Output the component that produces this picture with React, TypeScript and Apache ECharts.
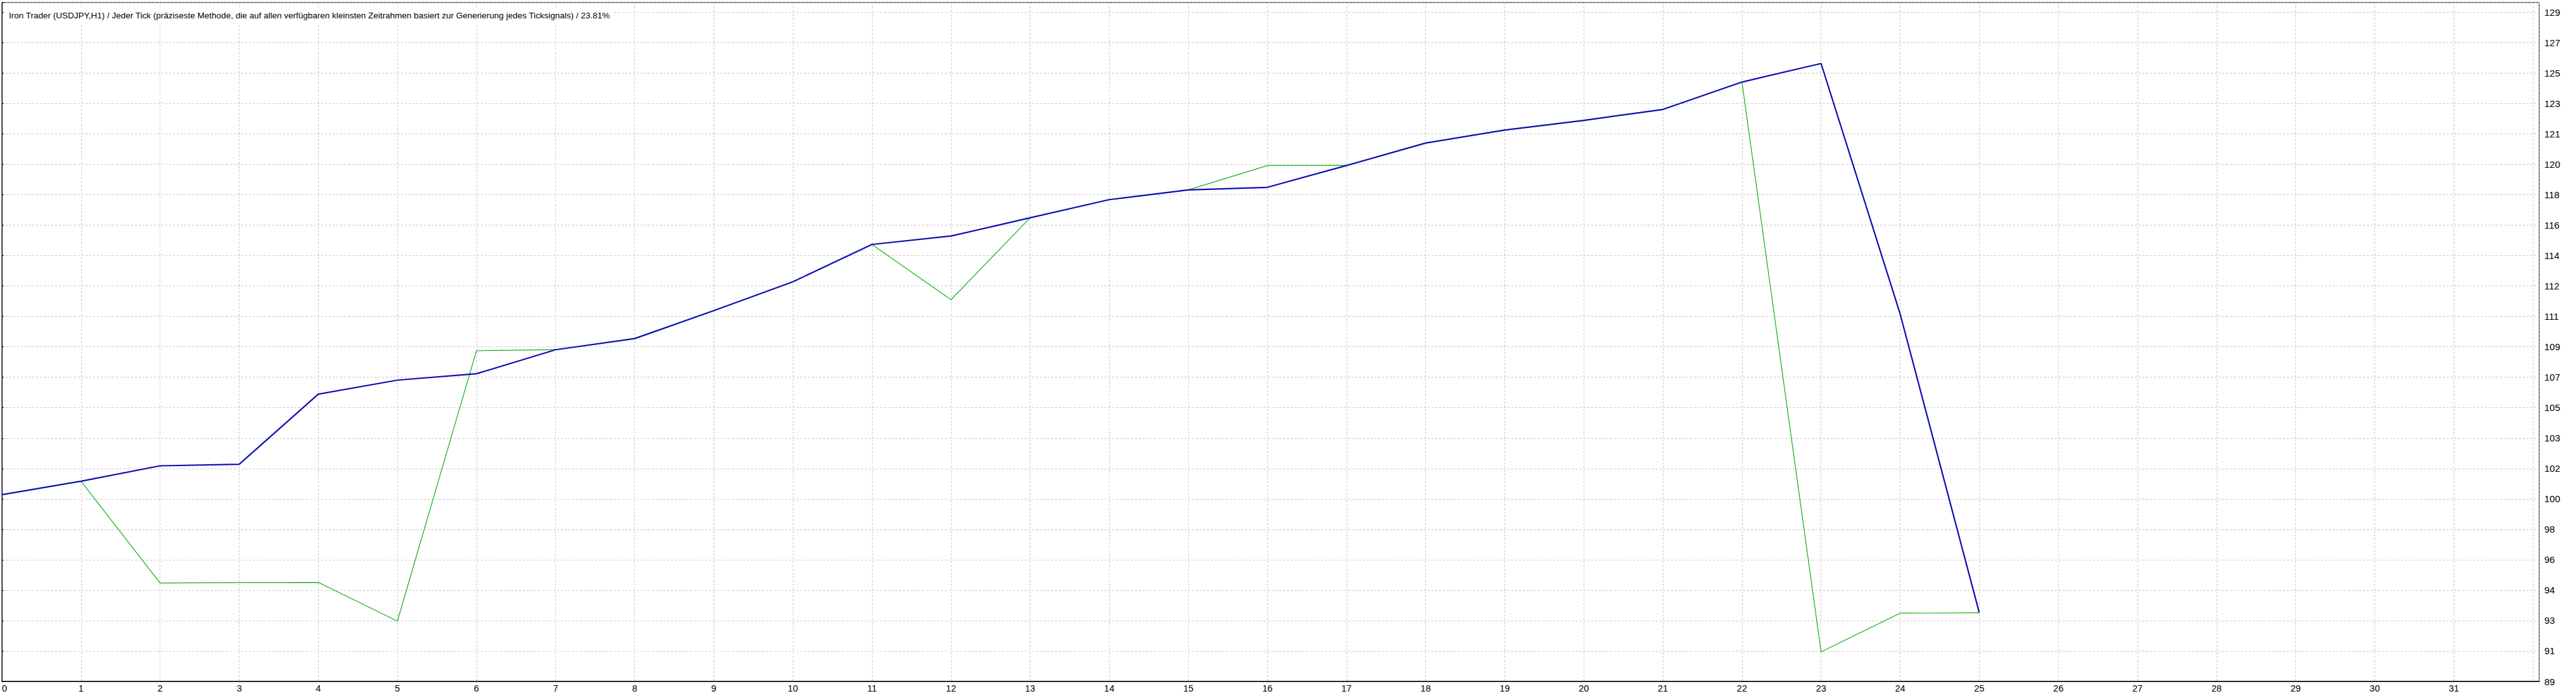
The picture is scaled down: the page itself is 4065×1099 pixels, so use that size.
import React, { useEffect, useRef } from 'react';
import * as echarts from 'echarts';

const TITLE =
  'Iron Trader (USDJPY,H1) / Jeder Tick (präziseste Methode, die auf allen verfügbaren kleinsten Zeitrahmen basiert zur Generierung jedes Ticksignals) / 23.81%';

// trade numbers (x axis)
const TRADES = [0, 1, 2, 3, 4, 5, 6, 7, 8, 9, 10, 11, 12, 13, 14, 15, 16, 17, 18, 19, 20, 21, 22, 23, 24, 25];

// balance (blue)
const BALANCE = [
  100.05, 100.85, 101.76, 101.85, 106.0, 106.83, 107.21, 108.63, 109.29, 110.94, 112.65, 114.86, 115.36,
  116.44, 117.51, 118.09, 118.24, 119.53, 120.86, 121.63, 122.2, 122.85, 124.47, 125.57, 110.74, 93.07,
];

// equity (green)
const EQUITY = [
  100.05, 100.85, 94.82, 94.85, 94.86, 92.57, 108.57, 108.63, 109.29, 110.94, 112.65, 114.86, 111.59,
  116.44, 117.51, 118.09, 119.53, 119.53, 120.86, 121.63, 122.2, 122.85, 124.47, 90.75, 93.04, 93.06,
];

// the y grid: labels are rounded values of base + k * step
const Y_BASE = 89;
const Y_STEP = 1.8;
const Y_TOP = 22.32; // top of plot, in grid steps
const Y_LAST_TICK = 22;
const X_MAX = 32.08;
const X_LAST_TICK = 31;

const toGrid = (v: number) => (v - Y_BASE) / Y_STEP;

const FONT = '"Liberation Sans", Arial, sans-serif';

export default function App() {
  const ref = useRef<HTMLDivElement>(null);

  useEffect(() => {
    if (!ref.current) return;
    const chart = echarts.init(ref.current, undefined, { renderer: 'svg' });
    const grid = { left: 3, top: 4, right: 58, bottom: 23 };
    const option: any = {
      animation: false,
      backgroundColor: '#ffffff',
      grid: { ...grid, show: true, borderColor: '#000000', borderWidth: 1, backgroundColor: 'transparent' },
      xAxis: {
        type: 'value',
        min: 0,
        max: X_MAX,
        interval: 1,
        axisLine: { show: true, onZero: false, lineStyle: { color: '#000', width: 1.5 } },
        axisTick: { show: false },
        axisLabel: {
          color: '#000',
          fontFamily: FONT,
          fontSize: 14.5,
          margin: 3,
          alignMinLabel: 'left',
          formatter: (v: number, idx: number) =>
            idx > X_LAST_TICK || Math.abs(v - Math.round(v)) > 1e-6 ? '' : String(Math.round(v)),
        },
        splitLine: { show: true, lineStyle: { color: '#c4c4c4', type: [3, 3], width: 1 } },
      },
      yAxis: {
        type: 'value',
        position: 'right',
        min: 0,
        max: Y_TOP,
        interval: 1,
        axisLine: { show: true, lineStyle: { color: '#000', width: 1 } },
        axisTick: { show: true, length: 3, lineStyle: { color: '#000' } },
        axisLabel: {
          color: '#000',
          fontFamily: FONT,
          fontSize: 15,
          margin: 8,
          formatter: (v: number, idx: number) =>
            idx > Y_LAST_TICK || Math.abs(v - Math.round(v)) > 1e-6
              ? ''
              : String(Math.round(Y_BASE + v * Y_STEP)),
        },
        splitLine: { show: true, lineStyle: { color: '#c4c4c4', type: [3, 3], width: 1 } },
      },
      series: [
        {
          name: 'Equity',
          type: 'line',
          data: TRADES.map((t, i) => [t, toGrid(EQUITY[i])]),
          showSymbol: false,
          symbol: 'none',
          lineStyle: { color: '#12b012', width: 1.2 },
          z: 2,
        },
        {
          name: 'Balance',
          type: 'line',
          data: TRADES.map((t, i) => [t, toGrid(BALANCE[i])]),
          showSymbol: false,
          symbol: 'none',
          lineStyle: { color: '#0c0cb4', width: 2.2 },
          z: 3,
        },
      ],
      graphic: [
        {
          type: 'text',
          x: 9,
          y: 11.5,
          z: 100,
          style: {
            text: TITLE,
            font: `13.5px ${FONT}`,
            fill: '#000',
            textVerticalAlign: 'top',
            backgroundColor: '#ffffff',
            padding: [6, 3, 6, 5],
          },
        },
      ],
    };
    chart.setOption(option);
    return () => chart.dispose();
  }, []);

  return (
    <div
      ref={ref}
      style={{ position: 'fixed', left: 0, top: 0, width: 4065, height: 1099, background: '#fff' }}
    />
  );
}
